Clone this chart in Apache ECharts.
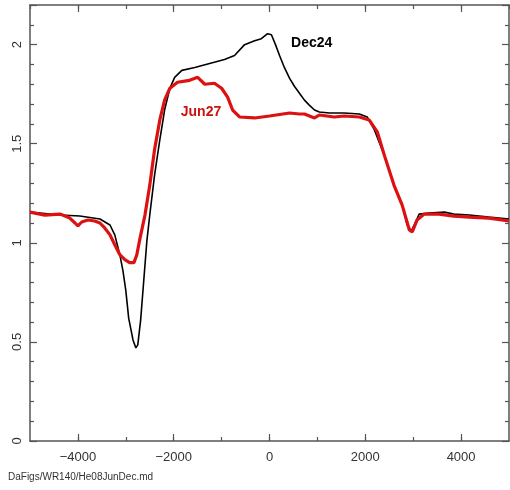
<!DOCTYPE html>
<html><head><meta charset="utf-8">
<script src="https://cdn.jsdelivr.net/npm/echarts@6/dist/echarts.min.js"></script>
<style>html,body{margin:0;padding:0;background:#fff}#c{width:510px;height:490px}</style>
</head><body><div id="c"></div>
<script>
var velDec = [-5000,-4375,-3960,-3540,-3330,-3230,-3125,-3060,-3000,-2940,-2850,-2790,-2750,-2690,-2625,-2560,-2500,-2400,-2290,-2190,-2080,-1980,-1830,-1560,-1250,-940,-730,-520,-310,-170,-40,40,125,210,310,420,520,625,730,830,940,1040,1250,1560,1875,2040,2190,2400,2600,2770,2875,2960,3020,3125,3330,3650,3850,4170,4580,5000];
var fluxDec = [1.155,1.14,1.135,1.12,1.09,1.04,0.94,0.86,0.76,0.62,0.51,0.47,0.485,0.61,0.81,1.01,1.14,1.34,1.52,1.67,1.78,1.835,1.87,1.885,1.905,1.925,1.945,2.0,2.02,2.03,2.055,2.05,2.0,1.945,1.885,1.83,1.79,1.755,1.72,1.695,1.67,1.66,1.655,1.655,1.65,1.635,1.57,1.44,1.29,1.19,1.09,1.06,1.09,1.145,1.15,1.155,1.145,1.14,1.13,1.12];
var velJun = [-5000,-4690,-4375,-4270,-4170,-4060,-4000,-3920,-3790,-3650,-3540,-3440,-3330,-3230,-3125,-3020,-2920,-2830,-2770,-2710,-2600,-2500,-2400,-2290,-2190,-2080,-1920,-1670,-1500,-1350,-1150,-1000,-875,-770,-625,-310,0,420,625,730,940,1040,1350,1560,1875,2080,2250,2400,2600,2770,2920,2980,3080,3230,3540,3850,4170,4580,5000];
var fluxJun = [1.155,1.14,1.145,1.135,1.125,1.10,1.085,1.105,1.115,1.11,1.10,1.075,1.04,0.99,0.94,0.915,0.90,0.90,0.94,1.015,1.14,1.29,1.47,1.62,1.72,1.78,1.81,1.82,1.835,1.80,1.805,1.78,1.735,1.67,1.635,1.63,1.64,1.655,1.65,1.65,1.63,1.645,1.635,1.64,1.635,1.62,1.56,1.44,1.29,1.19,1.065,1.055,1.115,1.145,1.145,1.135,1.13,1.125,1.11];
var xTicks = [-4000,-2000,0,2000,4000];
var yTicks = [0,0.5,1,1.5,2];
var seriesNames = ['Dec24','Jun27'];

function pairs(xs, ys){ return xs.map(function(x,i){ return [x, ys[i]]; }); }
var axisColor = '#555';
var font = 'Liberation Sans, Arial, sans-serif';
function xAx(pos, showLabel, major){
  var a = {type:'value', position:pos, min:-5000, max:5000, interval:1000,
    axisLine:{show:!major, onZero:false, lineStyle:{color:axisColor, width:1.5}},
    axisTick:{show:true, inside:true, length:major?7:4, lineStyle:{color:axisColor, width:1.2}},
    minorTick:{show:false},
    splitLine:{show:false},
    axisLabel:{show:showLabel, color:'#333', fontFamily:font, fontSize:13, margin:10,
      showMinLabel:false, showMaxLabel:false,
      formatter:function(v){ if (xTicks.indexOf(v)<0) return ''; return (v<0?'\u2212':'')+Math.abs(v); }}
  };
  if (major) a.axisTick.customValues = xTicks;
  return a;
}
function yAx(pos, showLabel){
  return {type:'value', position:pos, min:0, max:2.2, interval:0.5,
    axisLine:{show:true, onZero:false, lineStyle:{color:axisColor, width:1.5}},
    axisTick:{show:true, inside:true, length:7, lineStyle:{color:axisColor, width:1.2}},
    minorTick:{show:true, splitNumber:5, length:4, lineStyle:{color:axisColor, width:1.2}},
    splitLine:{show:false},
    axisLabel:{show:showLabel, color:'#333', fontFamily:font, fontSize:13, rotate:90, margin:13,
      showMaxLabel:false, verticalAlign:'middle', align:'center',
      formatter:function(v){ return yTicks.indexOf(v)>=0 ? String(v) : ''; }}
  };
}
var chart = echarts.init(document.getElementById('c'));
chart.setOption({
  animation:false,
  backgroundColor:'#fff',
  grid:{left:30, right:1, top:5, bottom:49},
  xAxis:[xAx('bottom', true, false), xAx('bottom', false, true), xAx('top', false, false), xAx('top', false, true)],
  yAxis:[yAx('left', true), yAx('right', false)],
  series:[
    {name:seriesNames[0], type:'line', xAxisIndex:0, yAxisIndex:0, data:pairs(velDec, fluxDec), symbol:'none',
      lineStyle:{color:'#000', width:1.6}, z:2,
      markPoint:{symbol:'circle', symbolSize:0, silent:true,
        data:[{coord:[880, 2.006], label:{show:true, formatter:seriesNames[0], color:'#000', fontWeight:'bold', fontSize:14, fontFamily:font}}]}},
    {name:seriesNames[1], type:'line', xAxisIndex:0, yAxisIndex:0, data:pairs(velJun, fluxJun), symbol:'none',
      lineStyle:{color:'#dd1111', width:3.2}, z:3,
      markPoint:{symbol:'circle', symbolSize:0, silent:true,
        data:[{coord:[-1430, 1.659], label:{show:true, formatter:seriesNames[1], color:'#cc1111', fontWeight:'bold', fontSize:14, fontFamily:font}}]}}
  ],
  graphic:[{type:'text', left:8, top:472, style:{text:'DaFigs/WR140/He08JunDec.md', fontSize:10, fontFamily:font, fill:'#333'}}]
});
</script></body></html>
